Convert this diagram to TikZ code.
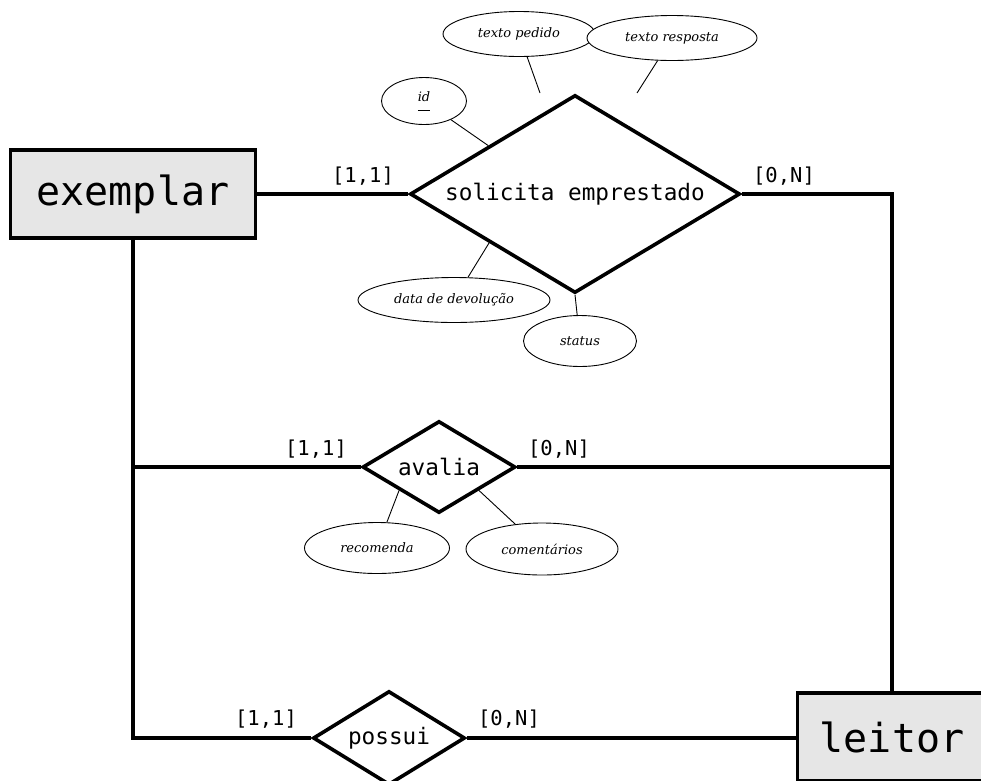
\documentclass[tikz,border=0pt]{standalone}
\usepackage{fontspec}
\setmonofont{DejaVu Sans Mono}
\newfontfamily\attrfont{DejaVu Serif}
\usetikzlibrary{shapes.geometric,calc}
\definecolor{entgray}{HTML}{E6E6E6}

\begin{document}
\begin{tikzpicture}[x=1pt,y=-1pt,
  entity/.style={draw, line width=3.6pt, fill=entgray, minimum width=245pt,
    minimum height=88pt, inner sep=0pt, font=\ttfamily\fontsize{40}{40}\selectfont},
  rel/.style={draw, diamond, aspect=1.65, line width=3.6pt, fill=white, inner sep=0pt,
    font=\ttfamily\fontsize{22.7}{23}\selectfont},
  attr/.style={draw, ellipse, line width=0.9pt, fill=white, inner sep=0pt,
    font=\attrfont\itshape\fontsize{13}{13}\selectfont},
  card/.style={font=\ttfamily\fontsize{20.5}{21}\selectfont, inner sep=0pt},
  link/.style={line width=3.6pt, line join=miter},
  attrlink/.style={line width=0.9pt}
]
\clip (0,0) rectangle (981,780);

% entities
\node[entity] (exemplar) at (133,194) {exemplar};
\node[entity, minimum width=189pt] (leitor) at (892,737) {leitor};

% relationships
\node[rel, minimum width=330pt, minimum height=198pt] (sol) at (575,194) {solicita emprestado};
\node[rel, minimum width=153pt, minimum height=92pt] (av) at (439,467) {avalia};
\node[rel, minimum width=152pt, minimum height=94pt] (pos) at (389,738) {possui};

% routing points
\coordinate (rcorner) at (sol.east -| leitor.north);
\coordinate (rjoin) at (av.east -| leitor.north);
\coordinate (ljoin) at (av.west -| exemplar.south);
\coordinate (lcorner) at (pos.west -| exemplar.south);

% connectors between entities and relationships
\draw[link] (exemplar.east) -- (sol.west);
\draw[link] (sol.east) -- (rcorner) -- (leitor.north);
\draw[link] (exemplar.south) -- (lcorner) -- (pos.west);
\draw[link] (ljoin) -- (av.west);
\draw[link] (av.east) -- (rjoin);
\draw[link] (pos.east) -- (pos.east -| leitor.west);

% cardinalities
\node[card] (c1) at (363,176) {[1,1]};
\node[card] (c2) at (784,176) {[0,N]};
\node[card] (c3) at (316,449) {[1,1]};
\node[card] (c4) at (559,449) {[0,N]};
\node[card] (c5) at (266,719) {[1,1]};
\node[card] (c6) at (509,719) {[0,N]};

% attributes of "solicita emprestado"
\node[attr, minimum width=152pt, minimum height=45pt] (tped) at (519,34) {texto pedido};
\node[attr, minimum width=170pt, minimum height=45pt] (tresp) at (672,38) {texto resposta};
\node[attr, minimum width=85pt, minimum height=47pt] (id) at (424,101)
  {\underline{id\rule[-7pt]{0pt}{1pt}}};
\node[attr, minimum width=192pt, minimum height=45pt] (ddev) at (454,300) {data de devolução};
\node[attr, minimum width=113pt, minimum height=51pt] (status) at (580,341) {status};

\coordinate (tped-end) at (540,93);
\coordinate (tresp-end) at (637,93);
\draw[attrlink] (tped) -- (tped-end);
\draw[attrlink] (tresp) -- (tresp-end);
\draw[attrlink] (id) -- ($(sol.west)!0.48!(sol.north)$);
\draw[attrlink] (ddev) -- ($(sol.west)!0.485!(sol.south)$);
\draw[attrlink] (status) -- (sol.south);

% attributes of "avalia"
\node[attr, minimum width=145pt, minimum height=51pt] (rec) at (377,548) {recomenda};
\node[attr, minimum width=152pt, minimum height=52pt] (com) at (542,549) {comentários};
\draw[attrlink] (rec) -- ($(av.west)!0.49!(av.south)$);
\draw[attrlink] (com) -- ($(av.south)!0.51!(av.east)$);
\end{tikzpicture}
\end{document}
